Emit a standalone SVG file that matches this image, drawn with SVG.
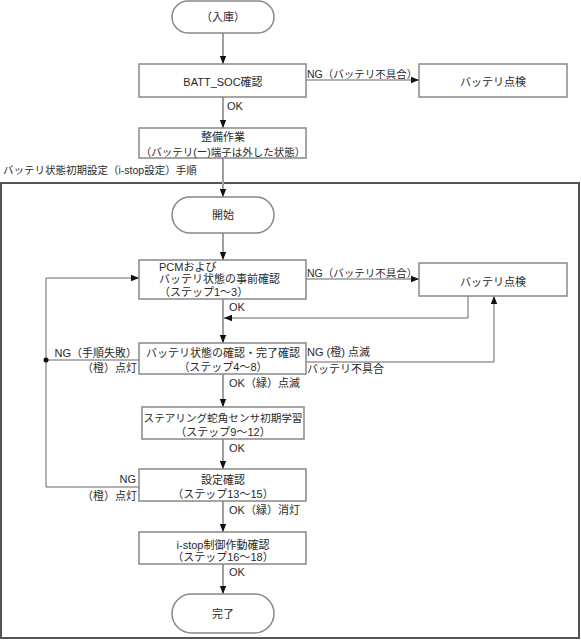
<svg xmlns="http://www.w3.org/2000/svg" width="581" height="641" viewBox="0 0 581 641">
<style>
text{font-family:"Liberation Sans","Noto Sans CJK JP",sans-serif;font-size:11px;fill:#2a2a2a}
.c{text-anchor:middle}
.r{text-anchor:end}
.s{font-size:10.5px}
.box{fill:#fff;stroke:#888;stroke-width:1.5}
.main{fill:none;stroke:#a0a0a0;stroke-width:2}
.thin{fill:none;stroke:#666;stroke-width:1}
.frame{fill:none;stroke:#555;stroke-width:2}
</style>
<defs>
<marker id="ah" viewBox="0 0 10 10" refX="10" refY="5" markerWidth="8" markerHeight="8" markerUnits="userSpaceOnUse" orient="auto">
<path d="M0,1 L10,5 L0,9 z" fill="#111"/>
</marker>
</defs>
<rect class="frame" x="1" y="183" width="578" height="455"/>
<text x="3" y="174" class="s">バッテリ状態初期設定（i-stop設定）手順</text>
<g id="connectors">
<path class="main" d="M223,33 V64" marker-end="url(#ah)"/>
<path class="main" d="M223,97 V128" marker-end="url(#ah)"/>
<path class="main" d="M223,158 V197" marker-end="url(#ah)"/>
<path class="main" d="M223,233 V260" marker-end="url(#ah)"/>
<path class="main" d="M223,299 V343" marker-end="url(#ah)"/>
<path class="main" d="M223,374 V407" marker-end="url(#ah)"/>
<path class="main" d="M223,439 V469" marker-end="url(#ah)"/>
<path class="main" d="M223,501 V532" marker-end="url(#ah)"/>
<path class="main" d="M223,564 V594" marker-end="url(#ah)"/>
<path class="thin" d="M306,80 H419" marker-end="url(#ah)"/>
<path class="thin" d="M306,279 H419" marker-end="url(#ah)"/>
<path class="thin" d="M468,296 V318 H224" marker-end="url(#ah)"/>
<path class="thin" d="M306,362 H494 V296" marker-end="url(#ah)"/>
<path class="thin" d="M139,487 H46 V278 H139" marker-end="url(#ah)"/>
<path class="thin" d="M139,360 H46"/>
<circle cx="46" cy="360" r="2.5" fill="#111"/>
<text x="227" y="110">OK</text>
<text x="307" y="78" class="s">NG（バッテリ不具合）</text>
<text x="229" y="311">OK</text>
<text x="307" y="277" class="s">NG（バッテリ不具合）</text>
<text class="r" x="137" y="357">NG（手順失敗）</text>
<text class="r" x="137" y="372">（橙）点灯</text>
<text x="307" y="356">NG (橙) 点滅</text>
<text x="307" y="373">バッテリ不具合</text>
<text x="229" y="387">OK（緑）点滅</text>
<text x="229" y="452">OK</text>
<text class="r" x="136" y="483">NG</text>
<text class="r" x="137" y="500">（橙）点灯</text>
<text x="229" y="514">OK（緑）消灯</text>
<text x="229" y="576">OK</text>
</g>
<g id="n_nyuko">
<rect class="box" x="172" y="1" width="102" height="32" rx="16"/>
<text class="c" x="223" y="21">（入庫）</text>
</g>
<g id="n_batt_soc">
<rect class="box" x="139" y="64" width="167" height="33"/>
<text class="c" x="223" y="86">BATT_SOC確認</text>
</g>
<g id="n_check1">
<rect class="box" x="419" y="64" width="148" height="33"/>
<text class="c" x="493" y="86">バッテリ点検</text>
</g>
<g id="n_seibi">
<rect class="box" x="139" y="128" width="167" height="30"/>
<text class="c" x="223" y="141">整備作業</text>
<text class="c s" x="223" y="156">（バッテリ(ー)端子は外した状態）</text>
</g>
<g id="n_start">
<rect class="box" x="172" y="197" width="102" height="36" rx="18"/>
<text class="c" x="223" y="219">開始</text>
</g>
<g id="n_pcm">
<rect class="box" x="139" y="260" width="167" height="39"/>
<text x="159" y="271">PCMおよび</text>
<text x="159" y="283">バッテリ状態の事前確認</text>
<text x="159" y="296">（ステップ1～3）</text>
</g>
<g id="n_check2">
<rect class="box" x="419" y="263" width="148" height="33"/>
<text class="c" x="493" y="286">バッテリ点検</text>
</g>
<g id="n_confirm">
<rect class="box" x="139" y="343" width="167" height="31"/>
<text class="c" x="223" y="357">バッテリ状態の確認・完了確認</text>
<text class="c" x="223" y="371">（ステップ4～8）</text>
</g>
<g id="n_steering">
<rect class="box" x="142" y="407" width="162" height="32"/>
<text class="c" x="223" y="422" style="font-size:10.6px">ステアリング蛇角センサ初期学習</text>
<text class="c" x="223" y="436">（ステップ9～12）</text>
</g>
<g id="n_setting">
<rect class="box" x="139" y="469" width="167" height="32"/>
<text class="c" x="223" y="484">設定確認</text>
<text class="c" x="223" y="498">（ステップ13～15）</text>
</g>
<g id="n_istop">
<rect class="box" x="139" y="532" width="167" height="32"/>
<text class="c" x="223" y="549">i-stop制御作動確認</text>
<text class="c" x="223" y="561">（ステップ16～18）</text>
</g>
<g id="n_end">
<rect class="box" x="172" y="594" width="102" height="39" rx="19.5"/>
<text class="c" x="223" y="618">完了</text>
</g>
</svg>
